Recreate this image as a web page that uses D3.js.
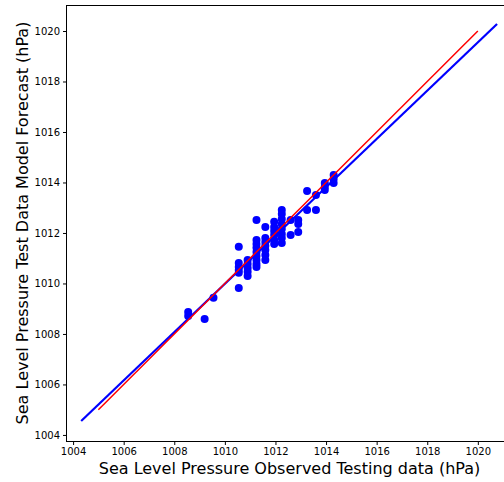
<!DOCTYPE html>
<html>
<head>
<meta charset="utf-8">
<script src="https://cdn.jsdelivr.net/npm/d3@7"></script>
<style>
  html, body { margin: 0; padding: 0; background: #fff; }
  svg { display: block; font-family: "DejaVu Sans", sans-serif; }
</style>
</head>
<body>
<svg id="chart" width="504" height="482"></svg>
<script>
// Observed (x) vs forecast (y) sea level pressure, hPa
const observed = [
  1008.55, 1008.55,
  1009.2,
  1009.55,
  1010.55, 1010.55, 1010.55, 1010.55, 1010.55, 1010.55,
  1010.9, 1010.9, 1010.9, 1010.9, 1010.9,
  1011.25, 1011.25, 1011.25, 1011.25, 1011.25, 1011.25, 1011.25, 1011.25, 1011.25,
  1011.6, 1011.6, 1011.6, 1011.6, 1011.6, 1011.6, 1011.6,
  1011.95, 1011.95, 1011.95, 1011.95, 1011.95, 1011.95,
  1012.25, 1012.25, 1012.25, 1012.25, 1012.25, 1012.25, 1012.25, 1012.25,
  1012.6, 1012.6,
  1012.9, 1012.9, 1012.9,
  1013.25, 1013.25,
  1013.6, 1013.6,
  1013.95, 1013.95, 1013.95,
  1014.3, 1014.3, 1014.3
];
const forecast = [
  1008.87, 1008.71,
  1008.59,
  1009.43,
  1011.45, 1010.81, 1010.65, 1010.53, 1010.42, 1009.82,
  1010.93, 1010.77, 1010.61, 1010.46, 1010.30,
  1012.51, 1011.72, 1011.56, 1011.41, 1011.25, 1011.09, 1010.93, 1010.77, 1010.65,
  1012.24, 1011.80, 1011.64, 1011.49, 1011.33, 1011.13, 1010.93,
  1012.44, 1012.24, 1012.08, 1011.92, 1011.72, 1011.56,
  1012.91, 1012.75, 1012.55, 1012.36, 1012.16, 1011.96, 1011.80, 1011.60,
  1012.51, 1011.92,
  1012.51, 1012.36, 1012.04,
  1013.66, 1012.91,
  1013.50, 1012.91,
  1013.98, 1013.82, 1013.70,
  1014.30, 1014.14, 1013.98
];
// Perfect-fit line (red) and fitted regression line (blue), endpoints
const idealX = [1005, 1020];
const idealY = [1005, 1020];
const fitX = [1004.32, 1020.76];
const fitY = [1004.55, 1020.28];
const tickValues = [1004, 1006, 1008, 1010, 1012, 1014, 1016, 1018, 1020];
const xLabel = "Sea Level Pressure Observed Testing data (hPa)";
const yLabel = "Sea Level Pressure Test Data Model Forecast (hPa)";

const svg = d3.select("#chart");
const L = 66, R = 513, T = 5, B = 441;
const x = d3.scaleLinear().domain([1003.72, 1021.39]).range([L, R]);
const y = d3.scaleLinear().domain([1003.76, 1021.03]).range([B, T]);

svg.append("defs").append("clipPath").attr("id", "clip")
  .append("rect").attr("x", L).attr("y", T).attr("width", R - L).attr("height", B - T);

const plot = svg.append("g").attr("clip-path", "url(#clip)");

plot.selectAll("circle").data(observed.map((v, i) => [v, forecast[i]]))
  .enter().append("circle")
  .attr("cx", d => x(d[0])).attr("cy", d => y(d[1])).attr("r", 4)
  .attr("fill", "#0000ff");

const line = d3.line().x(d => x(d[0])).y(d => y(d[1]));
plot.append("path").datum(fitX.map((v, i) => [v, fitY[i]]))
  .attr("d", line).attr("fill", "none").attr("stroke", "#0000ff").attr("stroke-width", 2.2);
plot.append("path").datum(idealX.map((v, i) => [v, idealY[i]]))
  .attr("d", line).attr("fill", "none").attr("stroke", "#ff0000").attr("stroke-width", 1.5);

// Frame
svg.append("rect").attr("x", L + 0.5).attr("y", T + 0.5).attr("width", R - L).attr("height", B - T)
  .attr("fill", "none").attr("stroke", "#000").attr("stroke-width", 1);

const xAxis = svg.append("g").attr("transform", `translate(0,${B + 0.5})`)
  .call(d3.axisBottom(x).tickValues(tickValues).tickFormat(d3.format("d")).tickSize(3.5).tickPadding(3));
const yAxis = svg.append("g").attr("transform", `translate(${L + 0.5},0)`)
  .call(d3.axisLeft(y).tickValues(tickValues).tickFormat(d3.format("d")).tickSize(3.5).tickPadding(3));
[xAxis, yAxis].forEach(a => {
  a.select(".domain").remove();
  a.selectAll("text").attr("font-size", 10).attr("font-family", "DejaVu Sans").attr("fill", "#000");
  a.selectAll("line").attr("stroke", "#000");
});

svg.append("text").attr("x", 289.5).attr("y", 474).attr("text-anchor", "middle")
  .attr("font-size", 16).attr("fill", "#000").text(xLabel);
svg.append("text").attr("transform", `translate(28,${(T + B) / 2}) rotate(-90)`)
  .attr("text-anchor", "middle").attr("font-size", 16).attr("fill", "#000").text(yLabel);
</script>
</body>
</html>
